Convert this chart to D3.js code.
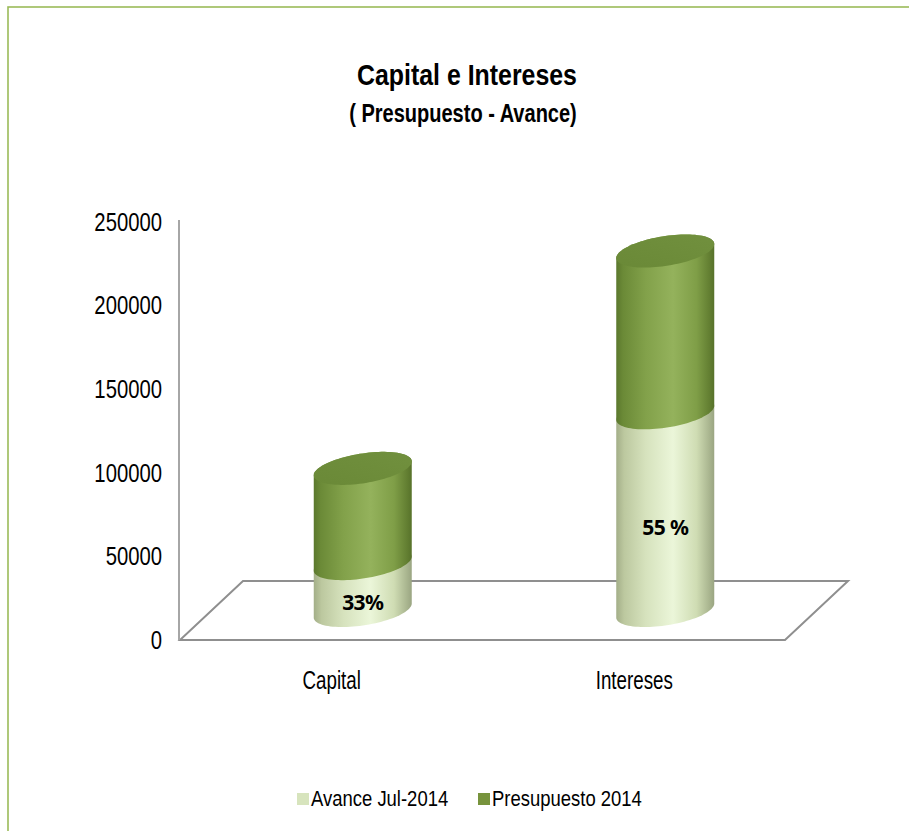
<!DOCTYPE html>
<html>
<head>
<meta charset="utf-8">
<script src="https://cdn.jsdelivr.net/npm/d3@7/dist/d3.min.js"></script>
<style>
  html, body { margin: 0; padding: 0; background: #fff; }
  svg { display: block; }
  .narrow { font-family: "Liberation Sans Narrow", "Arial Narrow", "Liberation Sans", Arial, sans-serif; }
</style>
</head>
<body>
<svg id="chart" width="909" height="831"></svg>
<script>
// Capital e Intereses: presupuesto 2014 vs avance a julio 2014
const categories = ["Capital", "Intereses"];
const presupuesto = [85000, 215000];
const avancePct = [33, 55];
const pctLabels = ["33%", "55 %"];
const seriesNames = ["Avance Jul-2014", "Presupuesto 2014"];
const yTicks = [0, 50000, 100000, 150000, 200000, 250000];

// avance value derived from the stated percentage of the budget
const avance = presupuesto.map((p, i) => p * avancePct[i] / 100);

const W = 909, H = 831;
const svg = d3.select("#chart");

// condensed look for a sans font: squeeze horizontally around the text's x
function condense(sel, s) {
  sel.each(function () {
    const t = d3.select(this);
    const x0 = +t.attr("x") || 0;
    t.attr("x", 0).attr("transform", `translate(${x0},0) scale(${s},1)`);
  });
}

// frame
svg.append("rect")
  .attr("x", 8).attr("y", 7)
  .attr("width", W + 20).attr("height", H + 20)
  .attr("fill", "#fff")
  .attr("stroke", "#9bbb59").attr("stroke-width", 1.6);

// titles
svg.append("text").attr("class", "narrow")
  .attr("x", 467).attr("y", 85)
  .attr("text-anchor", "middle")
  .attr("font-size", 30).attr("font-weight", "bold")
  .text("Capital e Intereses")
  .call(condense, 0.83);
svg.append("text").attr("class", "narrow")
  .attr("x", 463).attr("y", 122)
  .attr("text-anchor", "middle")
  .attr("font-size", 26).attr("font-weight", "bold")
  .text("( Presupuesto - Avance)")
  .call(condense, 0.77);

// scales
const plotLeft = 180, plotRight = 785;
const y = d3.scaleLinear().domain([0, 250000]).range([640, 222]);
const x = d3.scalePoint().domain(categories).range([plotLeft, plotRight]).padding(0.5);

// 3D depth of the floor
const depthX = 63, depthY = -59;

// floor (parallelogram)
const floorPts = [
  [plotLeft, y(0)], [plotRight, y(0)],
  [plotRight + depthX, y(0) + depthY], [plotLeft + depthX, y(0) + depthY]
];
svg.append("path")
  .attr("d", d3.line()(floorPts) + "Z")
  .attr("fill", "none")
  .attr("stroke", "#8f8f8f").attr("stroke-width", 2);

// value axis
const yAxis = d3.axisLeft(y).tickValues(yTicks).tickSize(0).tickPadding(17)
  .tickFormat(d3.format("d"));
const gy = svg.append("g").attr("class", "narrow")
  .attr("transform", `translate(${plotLeft - 1},0)`)
  .call(yAxis);
gy.select(".domain").attr("stroke", "#a6a6a6").attr("stroke-width", 2)
  .attr("d", `M0,${y(250000) - 2}V${y(0)}`);
gy.selectAll("text").attr("font-size", 26).attr("fill", "#000")
  .attr("font-family", null)
  .call(condense, 0.78);

// category axis
const xAxis = d3.axisBottom(x).tickSize(0).tickPadding(31);
const gx = svg.append("g").attr("class", "narrow")
  .attr("transform", `translate(0,${y(0)})`)
  .call(xAxis);
gx.select(".domain").remove();
gx.selectAll("text").attr("font-size", 25).attr("fill", "#000")
  .attr("font-family", null)
  .call(condense, 0.75);

// gradients for the cylinders
const defs = svg.append("defs");
function hGrad(id, stops) {
  const g = defs.append("linearGradient").attr("id", id)
    .attr("x1", 0).attr("x2", 1).attr("y1", 0).attr("y2", 0);
  stops.forEach(([o, c]) => g.append("stop").attr("offset", o).attr("stop-color", c));
}
hGrad("gDark", [[0, "#5b782d"], [0.07, "#6b8a37"], [0.3, "#82a14a"], [0.58, "#94b25c"],
                [0.82, "#7f9e47"], [0.95, "#637f32"], [1, "#57722a"]]);
hGrad("gLight", [[0, "#a3ae88"], [0.08, "#bcc89f"], [0.3, "#d6e2bd"], [0.58, "#ebf6d9"],
                 [0.82, "#cfdcb3"], [0.95, "#a9b58f"], [1, "#9aa582"]]);
const capGrad = defs.append("linearGradient").attr("id", "gCap")
  .attr("x1", 0).attr("x2", 1).attr("y1", 1).attr("y2", 0);
capGrad.append("stop").attr("offset", 0).attr("stop-color", "#6a8937");
capGrad.append("stop").attr("offset", 1).attr("stop-color", "#71903e");

// cylinder geometry (sheared ellipses, right side slightly higher)
const rx = 49, ry = 15, shear = 7;
const midX = depthX / 2, midY = depthY / 2;
const ym = v => y(v) + midY;
const ePt = (cx, cy, t) => [cx + rx * Math.cos(t), cy + ry * Math.sin(t) - shear * Math.cos(t)];
const N = 48;
function bodyPath(cx, v0, v1) {
  const yb = ym(v0), yt = ym(v1);
  const pts = [];
  for (let i = 0; i <= N; i++) pts.push(ePt(cx, yb, Math.PI - Math.PI * i / N));  // front arc of base
  for (let i = 0; i <= N; i++) pts.push(ePt(cx, yt, -Math.PI * i / N));           // back arc of top
  return d3.line()(pts) + "Z";
}
function capPath(cx, v) {
  const pts = d3.range(N * 2).map(i => ePt(cx, ym(v), 2 * Math.PI * i / (N * 2)));
  return d3.line()(pts) + "Z";
}

const bars = svg.append("g");
categories.forEach((c, i) => {
  const cx = x(c) + midX;
  bars.append("path").attr("d", bodyPath(cx, 0, avance[i])).attr("fill", "url(#gLight)");
  bars.append("path").attr("d", bodyPath(cx, avance[i], presupuesto[i])).attr("fill", "url(#gDark)");
  bars.append("path").attr("d", capPath(cx, presupuesto[i])).attr("fill", "url(#gCap)");
  bars.append("text")
    .attr("x", cx)
    .attr("y", (ym(0) + ym(avance[i])) / 2 + ry)
    .attr("text-anchor", "middle").attr("dominant-baseline", "central")
    .attr("font-family", "'Noto Sans', 'Open Sans', sans-serif")
    .attr("font-size", 21).attr("font-weight", "bold").attr("letter-spacing", -0.6)
    .attr("fill", "#000")
    .text(pctLabels[i]);
});

// legend
const legendColors = ["#d7e4bd", "#77933c"];
const legendX = [297, 478];
const lg = svg.append("g").attr("class", "narrow");
seriesNames.forEach((s, i) => {
  lg.append("rect").attr("x", legendX[i]).attr("y", 793).attr("width", 12).attr("height", 12)
    .attr("fill", legendColors[i]);
  lg.append("text").attr("x", legendX[i] + 14).attr("y", 806)
    .attr("font-size", 22).attr("fill", "#000").text(s)
    .call(condense, 0.84);
});
</script>
</body>
</html>
